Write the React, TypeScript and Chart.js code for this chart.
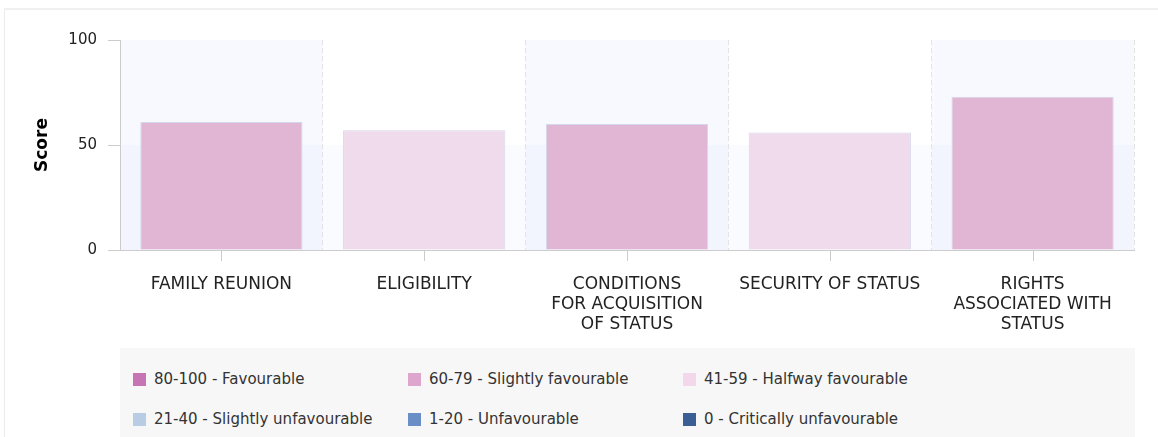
import React, { useEffect, useRef } from "react";
import { Chart, registerables } from "chart.js";

Chart.register(...registerables);

const categories: string[][] = [
  ["FAMILY REUNION"],
  ["ELIGIBILITY"],
  ["CONDITIONS", "FOR ACQUISITION", "OF STATUS"],
  ["SECURITY OF STATUS"],
  ["RIGHTS", "ASSOCIATED WITH", "STATUS"],
];
const scores = [61, 57, 60, 56, 73];
const yTicks = [0, 50, 100];

const legendLabels = [
  "80-100 - Favourable",
  "60-79 - Slightly favourable",
  "41-59 - Halfway favourable",
  "21-40 - Slightly unfavourable",
  "1-20 - Unfavourable",
  "0 - Critically unfavourable",
];
const legendMins = [80, 60, 41, 21, 1, 0];
const legendColors = ["#c774b4", "#dea6cc", "#f2d8ea", "#b8cce4", "#6a8fc7", "#3b5e94"];
const barFills = ["#d79cc8", "#e1b5d4", "#f0dbec", "#cfdcee", "#93aed8", "#6b85b0"];

const FONT = "'DejaVu Sans', Verdana, sans-serif";

function bandOf(v: number): number {
  for (let i = 0; i < legendMins.length; i++) if (v >= legendMins[i]) return i;
  return legendMins.length - 1;
}

const bandsPlugin = {
  id: "bands",
  beforeDraw(chart: any) {
    const { ctx, chartArea } = chart;
    const x = chart.scales.x;
    const y = chart.scales.y;
    ctx.save();
    categories.forEach((_, i) => {
      if (i % 2 !== 0) return;
      const l = x.getPixelForValue(i - 0.5);
      const r = x.getPixelForValue(i + 0.5);
      ctx.fillStyle = "rgba(200,210,245,0.13)";
      ctx.fillRect(l, chartArea.top, r - l, chartArea.bottom - chartArea.top);
    });
    const y0 = y.getPixelForValue(yTicks[0]);
    const y1 = y.getPixelForValue(yTicks[1]);
    ctx.fillStyle = "rgba(205,218,245,0.12)";
    ctx.fillRect(chartArea.left, y1, chartArea.right - chartArea.left, y0 - y1);
    ctx.restore();
  },
  afterDraw(chart: any) {
    const { ctx, chartArea } = chart;
    const x = chart.scales.x;
    ctx.save();
    ctx.strokeStyle = "#cccccc";
    ctx.lineWidth = 1;
    categories.forEach((_, i) => {
      const px = Math.round(x.getPixelForValue(i)) + 0.5;
      ctx.beginPath();
      ctx.moveTo(px, chartArea.bottom);
      ctx.lineTo(px, chartArea.bottom + 11);
      ctx.stroke();
    });
    ctx.restore();
  },
};

export default function App() {
  const ref = useRef<HTMLCanvasElement | null>(null);

  useEffect(() => {
    if (!ref.current) return;
    Chart.defaults.font.family = FONT;
    const chart = new Chart(ref.current, {
      type: "bar",
      data: {
        labels: categories,
        datasets: [
          {
            label: "Score",
            data: scores,
            backgroundColor: scores.map((v) => barFills[bandOf(v)]),
            borderColor: "#d3d8ec",
            borderWidth: 1,
            categoryPercentage: 0.8,
            barPercentage: 1.0,
          },
        ],
      },
      options: {
        animation: false,
        responsive: false,
        maintainAspectRatio: false,
        layout: { padding: { left: 0, top: 40, right: 24, bottom: 0 } },
        plugins: { legend: { display: false }, tooltip: { enabled: false } },
        scales: {
          x: {
            offset: true,
            afterFit: (s: any) => {
              s.height = 95;
            },
            grid: {
              offset: true,
              drawTicks: false,
              color: "#e3e3e3",
              lineWidth: 1,
            },
            border: { display: true, color: "#cccccc", dash: [5, 3] },
            ticks: {
              color: "#222222",
              font: { size: 17, family: FONT, lineHeight: 20 / 17 },
              padding: 25,
              maxRotation: 0,
              autoSkip: false,
            },
          },
          y: {
            min: 0,
            max: 100,
            afterBuildTicks: (s: any) => {
              s.ticks = yTicks.map((v) => ({ value: v }));
            },
            afterFit: (s: any) => {
              s.width = 120;
            },
            grid: {
              drawOnChartArea: false,
              drawTicks: true,
              tickLength: 12,
              color: "#cccccc",
            },
            border: { display: true, color: "#cccccc" },
            ticks: {
              color: "#222222",
              font: { size: 15, family: FONT },
              padding: 11,
            },
            title: {
              display: true,
              text: "Score",
              color: "#000000",
              font: { size: 17, weight: "bold", family: FONT, lineHeight: 1.2 },
              padding: { top: 32, bottom: 0 },
            },
          },
        },
      },
      plugins: [bandsPlugin],
    });
    return () => chart.destroy();
  }, []);

  return (
    <div style={{ position: "absolute", left: 0, top: 0, width: 1158, height: 437, overflow: "hidden", fontFamily: FONT }}>
      <div
        style={{
          position: "absolute",
          left: 4,
          top: 8,
          right: 0,
          bottom: 0,
          borderTop: "2px solid #f0f0f0",
          borderLeft: "1px solid #ececec",
        }}
      />
      <canvas ref={ref} width={1158} height={345} style={{ position: "absolute", left: 0, top: 0, width: 1158, height: 345 }} />
      <div
        style={{
          position: "absolute",
          left: 120,
          top: 348,
          width: 1015,
          height: 89,
          background: "#f7f7f7",
        }}
      >
        {legendLabels.map((lab, i) => {
          const col = i % 3;
          const row = Math.floor(i / 3);
          return (
            <div
              key={lab}
              style={{
                position: "absolute",
                left: 13 + col * 275,
                top: 31 + row * 40 - 10,
                height: 20,
                display: "flex",
                alignItems: "center",
                whiteSpace: "nowrap",
                fontSize: 15,
                color: "#333333",
              }}
            >
              <span style={{ display: "inline-block", width: 13, height: 13, background: legendColors[i], marginRight: 8 }} />
              <span>{lab}</span>
            </div>
          );
        })}
      </div>
    </div>
  );
}
